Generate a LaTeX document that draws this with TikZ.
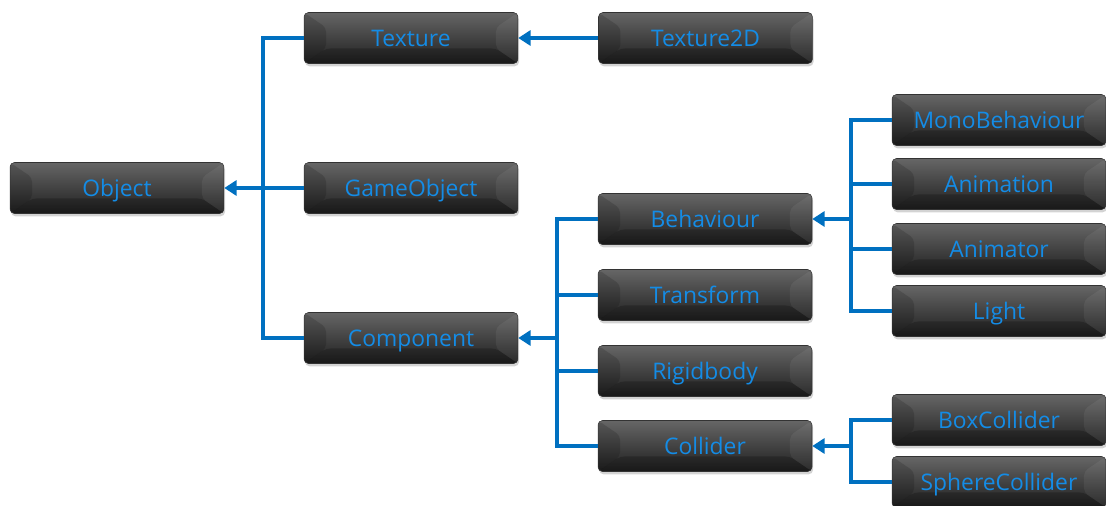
\documentclass[tikz,border=0pt]{standalone}
\usepackage{fontspec}
\setmainfont{Open Sans}
\usetikzlibrary{arrows.meta,positioning,shadows}
\definecolor{linkblue}{RGB}{0,112,192}
\definecolor{textblue}{RGB}{20,140,230}

\begin{document}
\begin{tikzpicture}[x=0.02cm,y=-0.02cm,node distance=1.6cm,
  >={Triangle[length=7pt,width=8.5pt]},
  cls/.style={rounded corners=2.5pt,minimum width=4.28cm,minimum height=1.02cm,
    top color=black!60,middle color=black!86,bottom color=black!88,
    draw=black!80,line width=0.3pt,
    text=textblue,font=\fontsize{13}{15}\selectfont,
    text height=11.5pt,text depth=1.5pt,
    drop shadow={opacity=0.35,shadow xshift=0.6pt,shadow yshift=-1.6pt},
    path picture={
      \fill[black,opacity=0.15] (path picture bounding box.north west)
        -- ([xshift=0.44cm,yshift=-0.3cm]path picture bounding box.north west)
        -- ([xshift=0.44cm,yshift=0.3cm]path picture bounding box.south west)
        -- (path picture bounding box.south west) -- cycle;
      \fill[white,opacity=0.06] (path picture bounding box.north east)
        -- ([xshift=-0.44cm,yshift=-0.3cm]path picture bounding box.north east)
        -- ([xshift=-0.44cm,yshift=0.3cm]path picture bounding box.south east)
        -- (path picture bounding box.south east) -- cycle;
      \fill[black,opacity=0.2] (path picture bounding box.south west)
        -- ([xshift=0.44cm,yshift=0.3cm]path picture bounding box.south west)
        -- ([xshift=-0.44cm,yshift=0.3cm]path picture bounding box.south east)
        -- (path picture bounding box.south east) -- cycle;
    }},
  link/.style={draw=linkblue,line width=2.3pt}]
\useasboundingbox (0,0) rectangle (1106,506);

% classes
\node[cls] (obj) at (117,188) {Object};
\node[cls] (tex) at (411,38) {Texture};
\node[cls,right=of tex] (tex2d) {Texture2D};
\node[cls] (gobj) at (411,188) {GameObject};
\node[cls] (comp) at (411,338) {Component};
\node[cls] (behav) at (705,219) {Behaviour};
\node[cls] (trans) at (705,295) {Transform};
\node[cls] (rigid) at (705,371) {Rigidbody};
\node[cls] (coll) at (705,446) {Collider};
\node[cls] (mono) at (999,120) {MonoBehaviour};
\node[cls] (anim) at (999,184) {Animation};
\node[cls] (animr) at (999,249) {Animator};
\node[cls] (light) at (999,311) {Light};
\node[cls] (boxc) at (999,420) {BoxCollider};
\node[cls] (sphc) at (999,482) {SphereCollider};

% inheritance
\draw[link] (tex.west) -- ++(-41,0) |- (comp.west);
\draw[link,->] (gobj.west) -- (obj.east);
\draw[link,->] (tex2d.west) -- (tex.east);

\draw[link] (behav.west) -- ++(-41,0) |- (coll.west);
\draw[link] (trans.west) -- ++(-41,0);
\draw[link] (rigid.west) -- ++(-41,0);
\coordinate (cbus) at (557,338);
\draw[link,->] (cbus) -- (comp.east);

\draw[link] (mono.west) -- ++(-41,0) |- (light.west);
\draw[link] (anim.west) -- ++(-41,0);
\draw[link] (animr.west) -- ++(-41,0);
\coordinate (bbus) at (851,219);
\draw[link,->] (bbus) -- (behav.east);

\draw[link] (boxc.west) -- ++(-41,0) |- (sphc.west);
\coordinate (kbus) at (851,446);
\draw[link,->] (kbus) -- (coll.east);
\end{tikzpicture}
\end{document}
